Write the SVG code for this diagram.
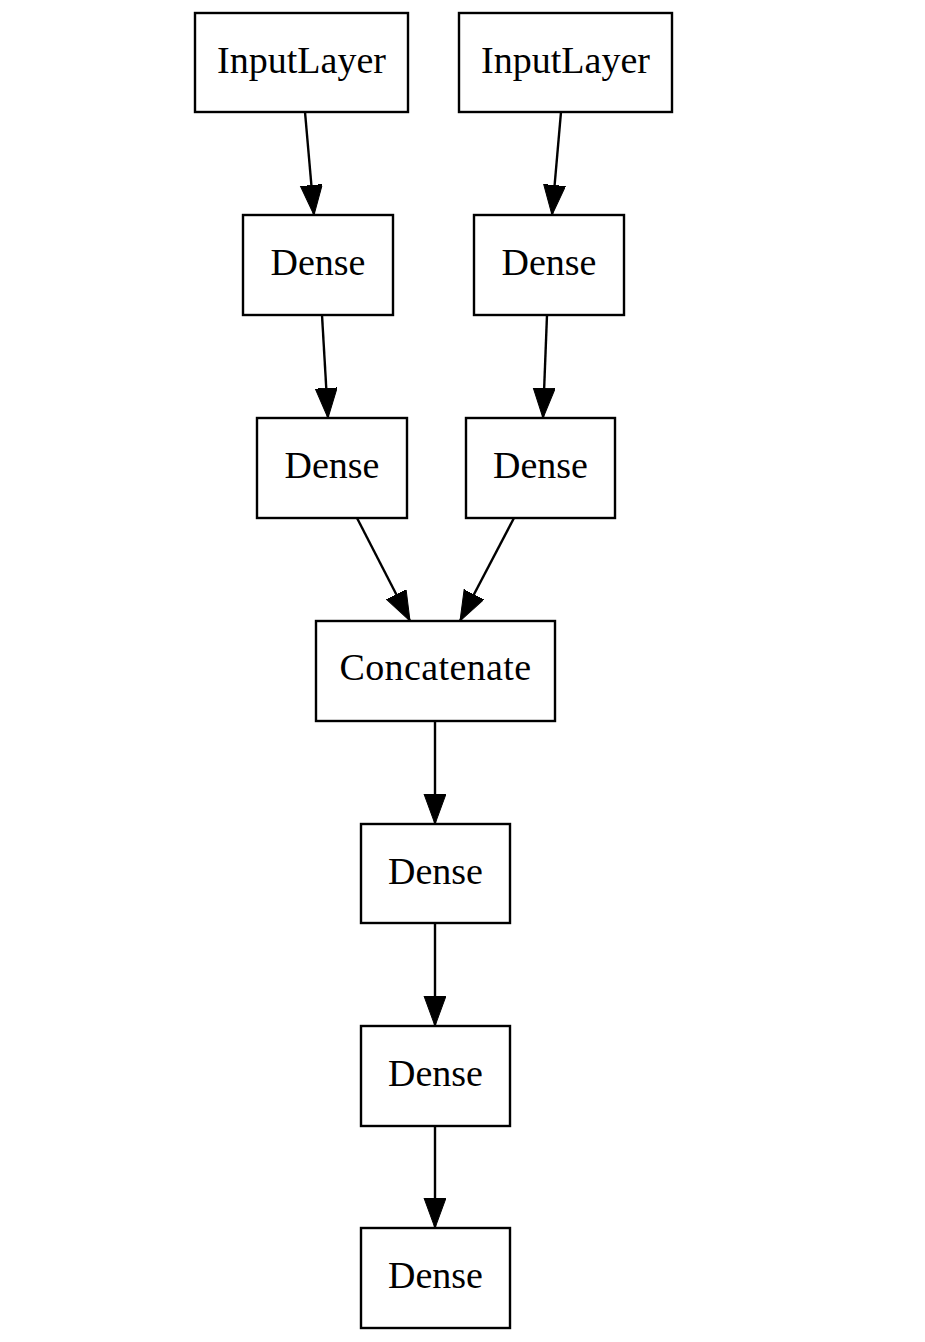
<svg xmlns="http://www.w3.org/2000/svg" width="925" height="1342" viewBox="0 0 925 1342">
<style>
.n rect{fill:#fff;stroke:#000;stroke-width:2.4}
.n text{font-family:"Liberation Serif","Times New Roman",serif;font-size:38px;text-anchor:middle;fill:#000}
.e line{stroke:#000;stroke-width:2.4;marker-end:url(#ah)}
</style>
<defs>
<marker id="ah" markerUnits="userSpaceOnUse" markerWidth="32" markerHeight="24" refX="30" refY="11" orient="auto" viewBox="0 0 32 24">
<path d="M0,0 L30,11 L0,22 z" fill="#000" stroke="#000" stroke-width="1"/>
</marker>
</defs>
<rect width="925" height="1342" fill="#fff"/>
<g id="edges" class="e">
<line x1="305" y1="112" x2="314" y2="215"/>
<line x1="561" y1="112" x2="552" y2="215"/>
<line x1="322" y1="315" x2="328" y2="418"/>
<line x1="547" y1="315" x2="543" y2="418"/>
<line x1="357" y1="518" x2="410" y2="621"/>
<line x1="514" y1="518" x2="460" y2="621"/>
<line x1="435" y1="721" x2="435" y2="824"/>
<line x1="435" y1="923" x2="435" y2="1026"/>
<line x1="435" y1="1126" x2="435" y2="1228"/>
</g>
<g id="input1" class="n"><rect x="195" y="13" width="213" height="99"/><text x="301.5" y="73">InputLayer</text></g>
<g id="input2" class="n"><rect x="459" y="13" width="213" height="99"/><text x="565.5" y="73">InputLayer</text></g>
<g id="dense_l1" class="n"><rect x="243" y="215" width="150" height="100"/><text x="318" y="275">Dense</text></g>
<g id="dense_r1" class="n"><rect x="474" y="215" width="150" height="100"/><text x="549" y="275">Dense</text></g>
<g id="dense_l2" class="n"><rect x="257" y="418" width="150" height="100"/><text x="332" y="478">Dense</text></g>
<g id="dense_r2" class="n"><rect x="466" y="418" width="149" height="100"/><text x="540.5" y="478">Dense</text></g>
<g id="concat" class="n"><rect x="316" y="621" width="239" height="100"/><text x="435.5" y="680" letter-spacing="0.4">Concatenate</text></g>
<g id="dense_1" class="n"><rect x="361" y="824" width="149" height="99"/><text x="435.5" y="884">Dense</text></g>
<g id="dense_2" class="n"><rect x="361" y="1026" width="149" height="100"/><text x="435.5" y="1086">Dense</text></g>
<g id="dense_3" class="n"><rect x="361" y="1228" width="149" height="100"/><text x="435.5" y="1288">Dense</text></g>
</svg>
